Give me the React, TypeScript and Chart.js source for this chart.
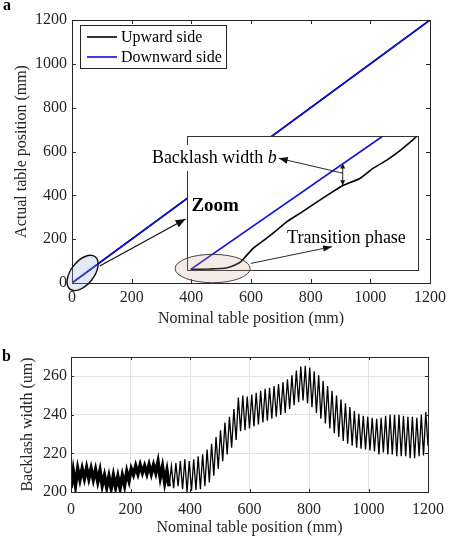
import React, { useEffect, useRef } from 'react';
import { Chart, registerables } from 'chart.js';

Chart.register(...registerables);

const FONT = "'Liberation Serif', 'Times New Roman', serif";
const AXIS_COLOR = '#262626';
const BLUE = 'rgb(12,12,228)';

// ---------- Panel a: full range ----------
const nominalA = [0, 1200];
const upwardA = [0, 1199.8];
const downwardA = [0, 1200];
const ticksA = [0, 200, 400, 600, 800, 1000, 1200];

// ---------- Panel a: zoom inset (zoom-window units 0..100) ----------
const insetBlueX = [1.6, 84.8];
const insetBlueY = [0.5, 100];
const insetBlackX = [1.6, 10, 17, 20.5, 23.5, 28.5, 34.5, 39, 43, 48.9, 56, 63, 67.5, 75, 80.5, 86.5, 92.2, 99.7];
const insetBlackY = [0.5, 0.8, 1.5, 3.5, 6.5, 16, 23.8, 30, 35.8, 42.3, 50.5, 58.3, 63, 68.5, 75.8, 82, 89, 100];

// ---------- Panel b: backlash width (um), successive minima / maxima ----------
const STEP_B = 7.5; // mm between successive extrema
const troughsB = [
  202, 203.5, 206.5, 207, 207, 206.5, 205.5, 203.5, 202.5, 202,
  202.5, 202, 203.5, 206, 209, 209.5, 210, 209.5, 209.5, 210,
  207.5, 205, 203, 202, 203, 201.5, 200, 200.5, 201, 201.5,
  203, 205, 208.5, 212, 216, 219.5, 223, 227, 231.5, 232,
  233, 234, 235, 236, 237, 238, 239, 240, 241, 243,
  245, 246.5, 247.5, 246, 244, 241, 238, 235.5, 233, 230.5,
  228.5, 226.5, 225, 224, 223, 222.5, 222, 221.5, 221, 219.5,
  220.5, 219.5, 219.5, 218.5, 218.5, 218.5, 217.5, 217.5, 218.5, 219,
];
const peaksB = [
  211, 212, 212, 212.5, 212, 211.5, 211, 208.5, 208, 208.5,
  208, 208.5, 210.5, 212, 213.5, 214, 213.5, 214, 214, 215.5,
  213, 211, 213.5, 215, 216, 217, 216, 217, 218.5, 219.5,
  222, 225, 228.5, 232, 236, 239, 243, 249, 250, 249.5,
  250.5, 251.5, 252.5, 253.5, 254, 255, 256, 257, 258.5, 260.5,
  263, 265, 265.5, 264.5, 262.5, 260.5, 257.5, 255, 252.5, 250,
  248, 246, 244, 242, 240.5, 239.5, 239, 238.5, 238, 238.5,
  239.5, 240, 240, 240, 239.5, 239, 239, 238.5, 240, 241.5,
];
const endB = 224;
const ticksBX = [0, 200, 400, 600, 800, 1000, 1200];
const ticksBY = [200, 220, 240, 260];

function boxPlugin(id: string, tickLen: number, label?: { text: string; x: number; y: number }) {
  return {
    id,
    afterDraw(chart: any) {
      const { ctx, chartArea: ca } = chart;
      const xs = chart.scales.x;
      const ys = chart.scales.y;
      ctx.save();
      ctx.strokeStyle = AXIS_COLOR;
      ctx.lineWidth = 1;
      ctx.beginPath();
      for (const t of xs.ticks) {
        const p = Math.round(xs.getPixelForValue(t.value)) + 0.5;
        ctx.moveTo(p, ca.bottom);
        ctx.lineTo(p, ca.bottom - tickLen);
        ctx.moveTo(p, ca.top);
        ctx.lineTo(p, ca.top + tickLen);
      }
      for (const t of ys.ticks) {
        const p = Math.round(ys.getPixelForValue(t.value)) + 0.5;
        ctx.moveTo(ca.left, p);
        ctx.lineTo(ca.left + tickLen, p);
        ctx.moveTo(ca.right, p);
        ctx.lineTo(ca.right - tickLen, p);
      }
      ctx.stroke();
      ctx.strokeRect(Math.round(ca.left) + 0.5, Math.round(ca.top) + 0.5, Math.round(ca.right - ca.left), Math.round(ca.bottom - ca.top));
      if (label) {
        ctx.fillStyle = '#000';
        ctx.font = `bold 16px ${FONT}`;
        ctx.textBaseline = 'alphabetic';
        ctx.textAlign = 'left';
        ctx.fillText(label.text, label.x, label.y);
      }
      ctx.restore();
    },
  };
}

const legendPlugin = {
  id: 'legendA',
  afterDraw(chart: any) {
    const { ctx, chartArea: ca } = chart;
    const lx = Math.round(ca.left) + 8;
    const ly = Math.round(ca.top) + 5;
    ctx.save();
    ctx.fillStyle = '#fff';
    ctx.fillRect(lx, ly, 146, 43);
    ctx.strokeStyle = AXIS_COLOR;
    ctx.lineWidth = 1;
    ctx.strokeRect(lx + 0.5, ly + 0.5, 146, 43);
    const items = chart.data.datasets.map((d: any) => ({ label: d.label, color: d.borderColor }));
    items.forEach((it: any, i: number) => {
      const y = ly + 12 + i * 20;
      ctx.strokeStyle = it.color;
      ctx.lineWidth = 1.6;
      ctx.beginPath();
      ctx.moveTo(lx + 7, y);
      ctx.lineTo(lx + 37, y);
      ctx.stroke();
      ctx.fillStyle = '#000';
      ctx.font = `16px ${FONT}`;
      ctx.textBaseline = 'middle';
      ctx.textAlign = 'left';
      ctx.fillText(it.label, lx + 41, y + 1);
    });
    ctx.restore();
  },
};

function arrowHead(ctx: any, x1: number, y1: number, x2: number, y2: number, len: number, half: number) {
  const a = Math.atan2(y2 - y1, x2 - x1);
  const bx = x2 - len * Math.cos(a);
  const by = y2 - len * Math.sin(a);
  ctx.beginPath();
  ctx.moveTo(x2, y2);
  ctx.lineTo(bx + half * Math.sin(a), by - half * Math.cos(a));
  ctx.lineTo(bx - half * Math.sin(a), by + half * Math.cos(a));
  ctx.closePath();
  ctx.fill();
}

function arrow(ctx: any, x1: number, y1: number, x2: number, y2: number, len: number, half: number, width = 1) {
  ctx.lineWidth = width;
  ctx.beginPath();
  ctx.moveTo(x1, y1);
  ctx.lineTo(x2, y2);
  ctx.stroke();
  arrowHead(ctx, x1, y1, x2, y2, len, half);
}

const insetPlugin = {
  id: 'insetDecor',
  beforeDatasetsDraw(chart: any) {
    const { ctx, chartArea: ca } = chart;
    ctx.save();
    ctx.fillStyle = '#fff';
    ctx.fillRect(ca.left, ca.top, ca.right - ca.left, ca.bottom - ca.top);
    ctx.restore();
  },
  afterDatasetsDraw(chart: any) {
    const { ctx, chartArea: ca } = chart;
    const X = (u: number) => chart.scales.x.getPixelForValue(u);
    const Y = (v: number) => chart.scales.y.getPixelForValue(v);
    ctx.save();
    // inset frame
    ctx.strokeStyle = '#333';
    ctx.lineWidth = 1;
    ctx.strokeRect(Math.round(ca.left) + 0.5, Math.round(ca.top) + 0.5, Math.round(ca.right - ca.left), Math.round(ca.bottom - ca.top));

    // ellipse around origin of main plot
    ctx.beginPath();
    ctx.ellipse(X(-45.2), Y(-2.2), 20.5, 11.5, (-52 * Math.PI) / 180, 0, Math.PI * 2);
    ctx.fillStyle = 'rgba(150,180,230,0.28)';
    ctx.fill();
    ctx.strokeStyle = '#111';
    ctx.lineWidth = 1.4;
    ctx.stroke();

    // ellipse at transition phase
    ctx.beginPath();
    ctx.ellipse(X(11.1), Y(1.1), 37.5, 14.2, 0, 0, Math.PI * 2);
    ctx.fillStyle = 'rgba(215,160,145,0.22)';
    ctx.fill();
    ctx.strokeStyle = '#444';
    ctx.lineWidth = 1;
    ctx.stroke();

    ctx.strokeStyle = '#111';
    ctx.fillStyle = '#111';
    // zoom arrow
    arrow(ctx, X(-37.8), Y(3.0), X(-0.6), Y(38.1), 10, 4, 1.3);
    // transition arrow
    arrow(ctx, X(27.6), Y(4.9), X(62.8), Y(17.4), 9, 3, 0.9);
    // backlash arrow
    arrow(ctx, X(67.6), Y(72.2), X(39.7), Y(83.4), 9, 3.5, 0.9);
    // double arrow for backlash width
    const dx = X(67.4);
    const t = Y(79.4);
    const b = Y(63.2);
    ctx.lineWidth = 0.9;
    ctx.beginPath();
    ctx.moveTo(dx, t);
    ctx.lineTo(dx, b);
    ctx.stroke();
    arrowHead(ctx, dx, b, dx, t, 5, 2.5);
    arrowHead(ctx, dx, t, dx, b, 5, 2.5);

    // texts
    ctx.textBaseline = 'middle';
    ctx.textAlign = 'left';
    ctx.fillStyle = '#000';
    ctx.font = `bold 19px ${FONT}`;
    ctx.fillText('Zoom', X(1.9), Y(48));

    ctx.font = `18px ${FONT}`;
    ctx.fillText('Transition phase', X(43.3), Y(23.9));

    const part1 = 'Backlash width ';
    ctx.font = `18px ${FONT}`;
    const w1 = ctx.measureText(part1).width;
    ctx.font = `italic 18px ${FONT}`;
    const w2 = ctx.measureText('b').width;
    const right = X(38.9);
    const cy = Y(83.6);
    const start = right - w1 - w2;
    ctx.fillStyle = '#fff';
    ctx.fillRect(start - 2, cy - 13, w1 + w2 + 3, 26);
    ctx.fillStyle = '#000';
    ctx.font = `18px ${FONT}`;
    ctx.fillText(part1, start, cy);
    ctx.font = `italic 18px ${FONT}`;
    ctx.fillText('b', start + w1, cy);
    ctx.restore();
  },
};

function axisFont() {
  return { family: FONT, size: 16 };
}

const plainTick = (v: any) => String(v);

export default function App() {
  const mainRef = useRef<HTMLCanvasElement>(null);
  const insetRef = useRef<HTMLCanvasElement>(null);
  const bRef = useRef<HTMLCanvasElement>(null);

  useEffect(() => {
    const charts: Chart[] = [];

    charts.push(
      new Chart(mainRef.current as HTMLCanvasElement, {
        type: 'line',
        data: {
          datasets: [
            {
              label: 'Upward side',
              data: nominalA.map((x, i) => ({ x, y: upwardA[i] })),
              borderColor: '#000',
              borderWidth: 1.6,
              pointRadius: 0,
              order: 1,
            },
            {
              label: 'Downward side',
              data: nominalA.map((x, i) => ({ x, y: downwardA[i] })),
              borderColor: BLUE,
              borderWidth: 1.6,
              pointRadius: 0,
              order: 0,
            },
          ],
        },
        options: {
          responsive: false,
          animation: false,
          layout: { padding: { left: 0, right: 22, top: 20, bottom: 0 } },
          plugins: { legend: { display: false }, tooltip: { enabled: false } },
          scales: {
            x: {
              type: 'linear',
              min: 0,
              max: 1200,
              afterBuildTicks: (s: any) => {
                s.ticks = ticksA.map((v) => ({ value: v }));
              },
              afterFit: (s: any) => {
                s.height = 47;
              },
              grid: { display: false, drawTicks: false },
              border: { display: false },
              ticks: { padding: 5, font: axisFont(), color: AXIS_COLOR, maxRotation: 0, callback: plainTick },
              title: {
                display: true,
                text: 'Nominal table position (mm)',
                font: axisFont(),
                color: AXIS_COLOR,
                padding: { top: 0, bottom: 2 },
              },
            },
            y: {
              type: 'linear',
              min: 0,
              max: 1200,
              afterBuildTicks: (s: any) => {
                s.ticks = ticksA.map((v) => ({ value: v }));
              },
              afterFit: (s: any) => {
                s.width = 72;
              },
              grid: { display: false, drawTicks: false },
              border: { display: false },
              ticks: { padding: 5, font: axisFont(), color: AXIS_COLOR, callback: plainTick },
              title: {
                display: true,
                text: 'Actual table position (mm)',
                font: axisFont(),
                color: AXIS_COLOR,
                padding: { top: 12, bottom: 0 },
              },
            },
          },
        },
        plugins: [boxPlugin('boxA', 4, { text: 'a', x: 3, y: 10 }), legendPlugin],
      } as any)
    );

    charts.push(
      new Chart(insetRef.current as HTMLCanvasElement, {
        type: 'line',
        data: {
          datasets: [
            {
              data: insetBlackX.map((x, i) => ({ x, y: insetBlackY[i] })),
              borderColor: '#000',
              borderWidth: 1.6,
              pointRadius: 0,
              tension: 0.2,
              order: 1,
            },
            {
              data: insetBlueX.map((x, i) => ({ x, y: insetBlueY[i] })),
              borderColor: BLUE,
              borderWidth: 1.6,
              pointRadius: 0,
              order: 0,
            },
          ],
        },
        options: {
          responsive: false,
          animation: false,
          layout: { padding: { left: 187, top: 136, right: 34, bottom: 60 } },
          plugins: { legend: { display: false }, tooltip: { enabled: false } },
          scales: {
            x: { type: 'linear', display: false, min: 0, max: 100 },
            y: { type: 'linear', display: false, min: 0, max: 100 },
          },
        },
        plugins: [insetPlugin],
      } as any)
    );

    const pts: { x: number; y: number }[] = [];
    troughsB.forEach((v, i) => {
      pts.push({ x: 2 * i * STEP_B, y: v });
      pts.push({ x: (2 * i + 1) * STEP_B, y: peaksB[i] });
    });
    pts.push({ x: 1200, y: endB });

    charts.push(
      new Chart(bRef.current as HTMLCanvasElement, {
        type: 'line',
        data: {
          datasets: [
            {
              data: pts,
              borderColor: '#000',
              borderWidth: 1.3,
              pointRadius: 0,
              segment: {
                borderWidth: (c: any) => (c.p0.parsed.x < 330 ? 3.6 : 1.3),
              },
            },
          ],
        },
        options: {
          responsive: false,
          animation: false,
          layout: { padding: { left: 0, right: 19, top: 27, bottom: 0 } },
          plugins: { legend: { display: false }, tooltip: { enabled: false } },
          scales: {
            x: {
              type: 'linear',
              min: 0,
              max: 1200,
              afterBuildTicks: (s: any) => {
                s.ticks = ticksBX.map((v) => ({ value: v }));
              },
              afterFit: (s: any) => {
                s.height = 45;
              },
              grid: { color: '#e2e2e2', drawTicks: false },
              border: { display: false },
              ticks: { padding: 8, font: axisFont(), color: AXIS_COLOR, maxRotation: 0, callback: plainTick },
              title: {
                display: true,
                text: 'Nominal table position (mm)',
                font: axisFont(),
                color: AXIS_COLOR,
                padding: { top: 0, bottom: 0 },
              },
            },
            y: {
              type: 'linear',
              min: 200,
              max: 270,
              afterBuildTicks: (s: any) => {
                s.ticks = ticksBY.map((v) => ({ value: v }));
              },
              afterFit: (s: any) => {
                s.width = 71;
              },
              grid: { color: '#e2e2e2', drawTicks: false },
              border: { display: false },
              ticks: { padding: 4, font: axisFont(), color: AXIS_COLOR, callback: plainTick },
              title: {
                display: true,
                text: 'Backlash width (um)',
                font: axisFont(),
                color: AXIS_COLOR,
                padding: { top: 18, bottom: 0 },
              },
            },
          },
        },
        plugins: [boxPlugin('boxB', 3, { text: 'b', x: 2, y: 31 })],
      } as any)
    );

    return () => charts.forEach((c) => c.destroy());
  }, []);

  return (
    <div style={{ position: 'absolute', left: 0, top: 0, width: 452, height: 537, background: '#fff' }}>
      <canvas ref={mainRef} width={452} height={330} style={{ position: 'absolute', left: 0, top: 0 }} />
      <canvas ref={insetRef} width={452} height={330} style={{ position: 'absolute', left: 0, top: 0 }} />
      <canvas ref={bRef} width={452} height={207} style={{ position: 'absolute', left: 0, top: 330 }} />
    </div>
  );
}
